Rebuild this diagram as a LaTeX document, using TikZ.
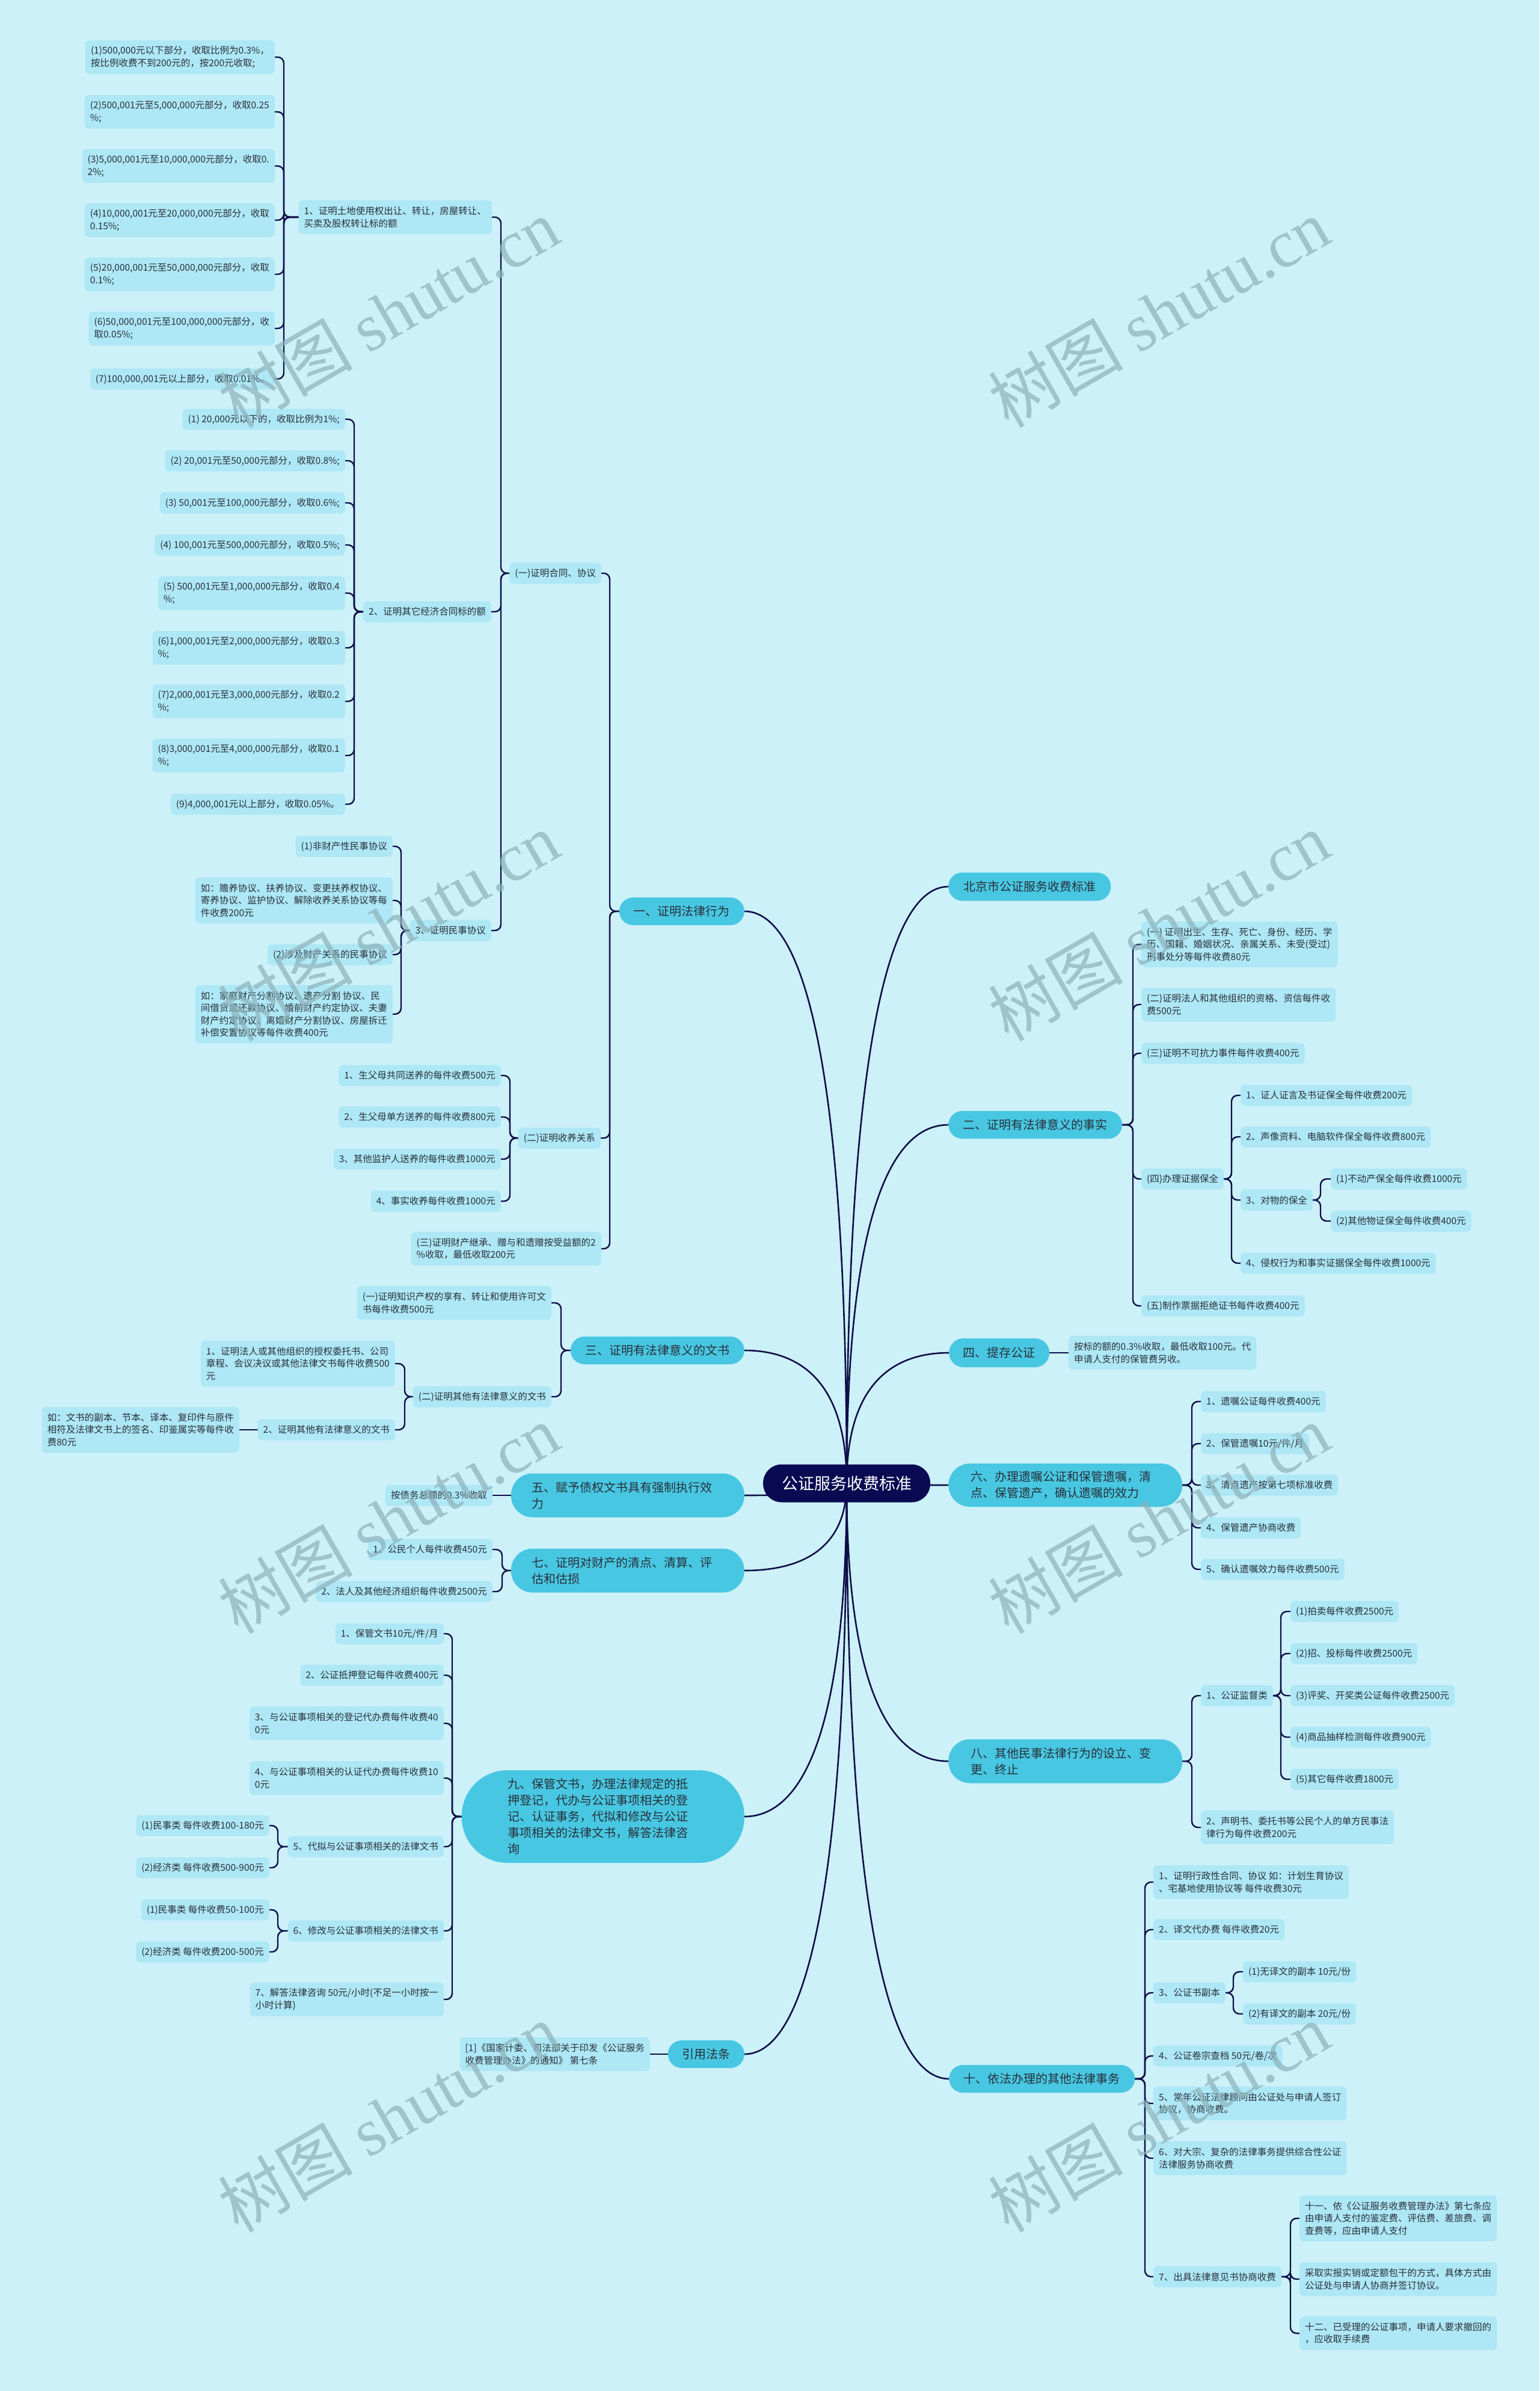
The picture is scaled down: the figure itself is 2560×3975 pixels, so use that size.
\documentclass[tikz,border=0pt]{standalone}
\usepackage{fontspec}
\setmainfont{Noto Sans CJK SC}
\newfontfamily\wmserif{Liberation Serif}
\usetikzlibrary{calc}
\definecolor{bgc}{RGB}{204,241,248}
\definecolor{leafc}{RGB}{174,231,245}
\definecolor{brc}{RGB}{72,199,226}
\definecolor{rootc}{RGB}{10,10,82}
\definecolor{linec}{RGB}{14,14,72}
\definecolor{txtc}{RGB}{40,48,58}
\definecolor{wmc}{RGB}{140,178,186}
\pgfdeclarelayer{bglayer}\pgfdeclarelayer{linelayer}\pgfdeclarelayer{wmlayer}
\pgfsetlayers{bglayer,linelayer,main,wmlayer}
\newcommand\leaffont{\fontsize{15.5pt}{20.3pt}\selectfont}
\newcommand\brfont{\fontsize{20pt}{27pt}\selectfont}
\newcommand\rootfont{\fontsize{27pt}{32pt}\selectfont}
\newcommand\wmfont{\fontsize{112pt}{112pt}\selectfont}
\newcommand\connRoot[1]{\draw[rootconn] (root.center) .. controls ($(#1 -| root.center)!0.2!(root.center)$) and ($(#1)!0.5!(#1 -| root.center)$) .. (#1);}
\newcommand\connL[3]{\draw[conn] (#1.west) -- (#1.west -| #3) |- (#2.east);}
\newcommand\connR[3]{\draw[conn] (#1.east) -- (#1.east -| #3) |- (#2.west);}
\tikzset{
 leaf/.style={fill=leafc, rounded corners=7pt, align=left, font=\leaffont, inner xsep=9pt, inner ysep=0pt, text=txtc},
 lL/.style={leaf, anchor=east},
 lR/.style={leaf, anchor=west},
 lnA/.style={minimum height=35pt},
 lnB/.style={minimum height=56pt},
 lnC/.style={minimum height=76pt},
 lnD/.style={minimum height=97pt},
 brn/.style={fill=brc, font=\brfont, inner sep=0pt, text=txtc},
 conn/.style={draw=linec, line width=2.4pt, rounded corners=10pt},
 rootconn/.style={draw=linec, line width=2.6pt},
 wmark/.style={text=wmc, opacity=0.7, rotate=30, font=\wmfont, inner sep=0pt}
}
\begin{document}
\begin{tikzpicture}[x=1pt,y=-1pt]
\useasboundingbox (0,0) rectangle (2560,3975);
\begin{pgfonlayer}{bglayer}
\fill[bgc] (0,0) rectangle (2560,3975);
\end{pgfonlayer}

% root
\node[fill=rootc, text=white, font=\rootfont, minimum width=278pt, minimum height=63pt, rounded corners=31pt, inner sep=0pt] (root) at (1408,2466) {公证服务收费标准};

% level 1 left
\node[brn, anchor=east, minimum width=208pt, minimum height=46pt, rounded corners=23pt] (b1) at (1238,1515) {一、证明法律行为};
\node[brn, anchor=east, minimum width=289pt, minimum height=46pt, rounded corners=23pt] (b3) at (1238,2245) {三、证明有法律意义的文书};
\node[brn, anchor=east, minimum width=388pt, minimum height=73pt, rounded corners=36pt, text width=318pt, align=left] (b5) at (1238,2486) {五、赋予债权文书具有强制执行效\\力};
\node[brn, anchor=east, minimum width=388pt, minimum height=73pt, rounded corners=36pt, text width=318pt, align=left] (b7) at (1238,2611) {七、证明对财产的清点、清算、评\\估和估损};
\node[brn, anchor=east, minimum width=470pt, minimum height=154pt, rounded corners=76pt, text width=316pt, align=left] (b9) at (1238,3020) {九、保管文书，办理法律规定的抵\\押登记，代办与公证事项相关的登\\记、认证事务，代拟和修改与公证\\事项相关的法律文书，解答法律咨\\询};
\node[brn, anchor=east, minimum width=127pt, minimum height=46pt, rounded corners=23pt] (bref) at (1238,3415) {引用法条};

% level 1 right
\node[brn, anchor=west, minimum width=270pt, minimum height=47pt, rounded corners=23pt] (bbj) at (1577,1474) {北京市公证服务收费标准};
\node[brn, anchor=west, minimum width=289pt, minimum height=46pt, rounded corners=23pt] (b2) at (1577,1870) {二、证明有法律意义的事实};
\node[brn, anchor=west, minimum width=167pt, minimum height=48pt, rounded corners=24pt] (b4) at (1578,2249) {四、提存公证};
\node[brn, anchor=west, minimum width=389pt, minimum height=72pt, rounded corners=36pt, text width=315pt, align=left] (b6) at (1577,2469) {六、办理遗嘱公证和保管遗嘱，清\\点、保管遗产，确认遗嘱的效力};
\node[brn, anchor=west, minimum width=389pt, minimum height=73pt, rounded corners=36pt, text width=315pt, align=left] (b8) at (1577,2928) {八、其他民事法律行为的设立、变\\更、终止};
\node[brn, anchor=west, minimum width=309pt, minimum height=46pt, rounded corners=23pt] (b10) at (1578,3456) {十、依法办理的其他法律事务};

% branch 一
\node[lL, lnA] (a1) at (1000,953) {(一)证明合同、协议};
\node[lL, lnA] (a2) at (999,1892) {(二)证明收养关系};
\node[lL, lnB] (a3) at (1000,2076) {(三)证明财产继承、赠与和遗赠按受益额的2\\\%收取，最低收取200元};
\node[lL, lnB] (a11) at (818,361) {1、证明土地使用权出让、转让，房屋转让、\\买卖及股权转让标的额};
\node[lL, lnA] (a12) at (817,1017) {2、证明其它经济合同标的额};
\node[lL, lnA] (a13) at (817,1547) {3、证明民事协议};
\node[lL, lnB] (a111) at (457,95) {(1)500,000元以下部分，收取比例为0.3\%，\\按比例收费不到200元的，按200元收取;};
\node[lL, lnB] (a112) at (457,186) {(2)500,001元至5,000,000元部分，收取0.25\\\%;};
\node[lL, lnB] (a113) at (457,276) {(3)5,000,001元至10,000,000元部分，收取0.\\2\%;};
\node[lL, lnB] (a114) at (457,366) {(4)10,000,001元至20,000,000元部分，收取\\0.15\%;};
\node[lL, lnB] (a115) at (457,456) {(5)20,000,001元至50,000,000元部分，收取\\0.1\%;};
\node[lL, lnB] (a116) at (457,546) {(6)50,000,001元至100,000,000元部分，收\\取0.05\%;};
\node[lL, lnA] (a117) at (457,630) {(7)100,000,001元以上部分，收取0.01\%。};
\node[lL, lnA] (a121) at (574,697) {(1) 20,000元以下的，收取比例为1\%;};
\node[lL, lnA] (a122) at (574,766) {(2) 20,001元至50,000元部分，收取0.8\%;};
\node[lL, lnA] (a123) at (574,836) {(3) 50,001元至100,000元部分，收取0.6\%;};
\node[lL, lnA] (a124) at (574,906) {(4) 100,001元至500,000元部分，收取0.5\%;};
\node[lL, lnB] (a125) at (574,986) {(5) 500,001元至1,000,000元部分，收取0.4\\\%;};
\node[lL, lnB] (a126) at (574,1077) {(6)1,000,001元至2,000,000元部分，收取0.3\\\%;};
\node[lL, lnB] (a127) at (574,1166) {(7)2,000,001元至3,000,000元部分，收取0.2\\\%;};
\node[lL, lnB] (a128) at (574,1256) {(8)3,000,001元至4,000,000元部分，收取0.1\\\%;};
\node[lL, lnA] (a129) at (574,1337) {(9)4,000,001元以上部分，收取0.05\%。};
\node[lL, lnA] (a131) at (653,1407) {(1)非财产性民事协议};
\node[lL, lnC] (a132) at (653,1497) {如：赡养协议、扶养协议、变更扶养权协议、\\寄养协议、监护协议、解除收养关系协议等每\\件收费200元};
\node[lL, lnA] (a133) at (653,1587) {(2)涉及财产关系的民事协议};
\node[lL, lnD] (a134) at (653,1686) {如：家庭财产分割协议、遗产分割 协议、民\\间借贷或还款协议、婚前财产约定协议、夫妻\\财产约定协议、离婚财产分割协议、房屋拆迁\\补偿安置协议等每件收费400元};
\node[lL, lnA] (a21) at (833,1788) {1、生父母共同送养的每件收费500元};
\node[lL, lnA] (a22) at (833,1857) {2、生父母单方送养的每件收费800元};
\node[lL, lnA] (a23) at (833,1927) {3、其他监护人送养的每件收费1000元};
\node[lL, lnA] (a24) at (833,1997) {4、事实收养每件收费1000元};

% branch 三
\node[lL, lnB] (c1) at (917,2166) {(一)证明知识产权的享有、转让和使用许可文\\书每件收费500元};
\node[lL, lnA] (c2) at (917,2322) {(二)证明其他有法律意义的文书};
\node[lL, lnC] (c21) at (657,2267) {1、证明法人或其他组织的授权委托书、公司\\章程、会议决议或其他法律文书每件收费500\\元};
\node[lL, lnA] (c22) at (657,2377) {2、证明其他有法律意义的文书};
\node[lL, lnC] (c221) at (398,2377) {如：文书的副本、节本、译本、复印件与原件\\相符及法律文书上的签名、印鉴属实等每件收\\费80元};

% branch 五, 七
\node[lL, lnA] (e1) at (819,2486) {按债务总额的0.3\%收取};
\node[lL, lnA] (g1) at (819,2576) {1、公民个人每件收费450元};
\node[lL, lnA] (g2) at (819,2646) {2、法人及其他经济组织每件收费2500元};

% branch 九
\node[lL, lnA] (i1) at (738,2716) {1、保管文书10元/件/月};
\node[lL, lnA] (i2) at (738,2785) {2、公证抵押登记每件收费400元};
\node[lL, lnB] (i3) at (738,2865) {3、与公证事项相关的登记代办费每件收费40\\0元};
\node[lL, lnB] (i4) at (738,2956) {4、与公证事项相关的认证代办费每件收费10\\0元};
\node[lL, lnA] (i5) at (738,3070) {5、代拟与公证事项相关的法律文书};
\node[lL, lnA] (i6) at (738,3210) {6、修改与公证事项相关的法律文书};
\node[lL, lnB] (i7) at (738,3324) {7、解答法律咨询 50元/小时(不足一小时按一\\小时计算)};
\node[lL, lnA] (i51) at (448,3035) {(1)民事类 每件收费100-180元};
\node[lL, lnA] (i52) at (448,3105) {(2)经济类 每件收费500-900元};
\node[lL, lnA] (i61) at (448,3175) {(1)民事类 每件收费50-100元};
\node[lL, lnA] (i62) at (448,3245) {(2)经济类 每件收费200-500元};

% 引用法条
\node[lL, lnB] (r1) at (1081,3415) {[1]《国家计委、司法部关于印发《公证服务\\收费管理办法》的通知》 第七条};

% branch 二
\node[lR, lnC] (d1) at (1898,1570) {(一) 证明出生、生存、死亡、身份、经历、学\\历、国籍、婚姻状况、亲属关系、未受(受过)\\刑事处分等每件收费80元};
\node[lR, lnB] (d2) at (1898,1670) {(二)证明法人和其他组织的资格、资信每件收\\费500元};
\node[lR, lnA] (d3) at (1898,1751) {(三)证明不可抗力事件每件收费400元};
\node[lR, lnA] (d4) at (1898,1960) {(四)办理证据保全};
\node[lR, lnA] (d5) at (1898,2171) {(五)制作票据拒绝证书每件收费400元};
\node[lR, lnA] (d41) at (2063,1821) {1、证人证言及书证保全每件收费200元};
\node[lR, lnA] (d42) at (2063,1890) {2、声像资料、电脑软件保全每件收费800元};
\node[lR, lnA] (d43) at (2063,1995) {3、对物的保全};
\node[lR, lnA] (d44) at (2063,2100) {4、侵权行为和事实证据保全每件收费1000元};
\node[lR, lnA] (d431) at (2213,1960) {(1)不动产保全每件收费1000元};
\node[lR, lnA] (d432) at (2213,2030) {(2)其他物证保全每件收费400元};

% branch 四
\node[lR, lnB] (f1) at (1777,2249) {按标的额的0.3\%收取，最低收取100元。代\\申请人支付的保管费另收。};

% branch 六
\node[lR, lnA] (h1) at (1997,2330) {1、遗嘱公证每件收费400元};
\node[lR, lnA] (h2) at (1997,2400) {2、保管遗嘱10元/件/月};
\node[lR, lnA] (h3) at (1997,2469) {3、清点遗产按第七项标准收费};
\node[lR, lnA] (h4) at (1997,2540) {4、保管遗产协商收费};
\node[lR, lnA] (h5) at (1997,2609) {5、确认遗嘱效力每件收费500元};

% branch 八
\node[lR, lnA] (k1) at (1997,2819) {1、公证监督类};
\node[lR, lnB] (k2) at (1997,3038) {2、声明书、委托书等公民个人的单方民事法\\律行为每件收费200元};
\node[lR, lnA] (k11) at (2146,2679) {(1)拍卖每件收费2500元};
\node[lR, lnA] (k12) at (2146,2749) {(2)招、投标每件收费2500元};
\node[lR, lnA] (k13) at (2146,2819) {(3)评奖、开奖类公证每件收费2500元};
\node[lR, lnA] (k14) at (2146,2888) {(4)商品抽样检测每件收费900元};
\node[lR, lnA] (k15) at (2146,2958) {(5)其它每件收费1800元};

% branch 十
\node[lR, lnB] (m1) at (1918,3129) {1、证明行政性合同、协议 如：计划生育协议\\、宅基地使用协议等 每件收费30元};
\node[lR, lnA] (m2) at (1918,3208) {2、译文代办费 每件收费20元};
\node[lR, lnA] (m3) at (1918,3313) {3、公证书副本};
\node[lR, lnA] (m4) at (1918,3418) {4、公证卷宗查档 50元/卷/次};
\node[lR, lnB] (m5) at (1918,3497) {5、常年公证法律顾问由公证处与申请人签订\\协议，协商收费。};
\node[lR, lnB] (m6) at (1918,3588) {6、对大宗、复杂的法律事务提供综合性公证\\法律服务协商收费};
\node[lR, lnA] (m7) at (1918,3785) {7、出具法律意见书协商收费};
\node[lR, lnA] (m31) at (2067,3278) {(1)无译文的副本 10元/份};
\node[lR, lnA] (m32) at (2067,3348) {(2)有译文的副本 20元/份};
\node[lR, lnC] (m71) at (2161,3688) {十一、依《公证服务收费管理办法》第七条应\\由申请人支付的鉴定费、评估费、差旅费、调\\查费等，应由申请人支付};
\node[lR, lnB] (m72) at (2161,3789) {采取实报实销或定额包干的方式，具体方式由\\公证处与申请人协商并签订协议。};
\node[lR, lnB] (m73) at (2161,3879) {十二、已受理的公证事项，申请人要求撤回的\\，应收取手续费};

% connectors
\begin{pgfonlayer}{linelayer}
\connRoot{b1.east}\connRoot{b3.east}\connRoot{b5.east}\connRoot{b7.east}\connRoot{b9.east}\connRoot{bref.east}
\connRoot{bbj.west}\connRoot{b2.west}\connRoot{b4.west}\connRoot{b6.west}\connRoot{b8.west}\connRoot{b10.west}
\coordinate (tb1) at (1014,0);
\coordinate (ta1) at (833,0);
\coordinate (ta11) at (472,0);
\coordinate (ta12) at (589,0);
\coordinate (ta13) at (667,0);
\coordinate (ta2) at (848,0);
\coordinate (tb3) at (933,0);
\coordinate (tc2) at (673,0);
\coordinate (tb7) at (835,0);
\coordinate (tb9) at (752,0);
\coordinate (ti5) at (462,0);
\coordinate (ti6) at (462,0);
\coordinate (tb2) at (1884,0);
\coordinate (td4) at (2048,0);
\coordinate (td43) at (2196,0);
\coordinate (tb6) at (1982,0);
\coordinate (tk1) at (2130,0);
\coordinate (tb10) at (1904,0);
\coordinate (tm3) at (2051,0);
\coordinate (tm7) at (2146,0);
\connL{b1}{a1}{tb1}\connL{b1}{a2}{tb1}\connL{b1}{a3}{tb1}
\connL{a1}{a11}{ta1}\connL{a1}{a12}{ta1}\connL{a1}{a13}{ta1}
\foreach \n in {a111,a112,a113,a114,a115,a116,a117}{\connL{a11}{\n}{ta11}}
\foreach \n in {a121,a122,a123,a124,a125,a126,a127,a128,a129}{\connL{a12}{\n}{ta12}}
\foreach \n in {a131,a132,a133,a134}{\connL{a13}{\n}{ta13}}
\foreach \n in {a21,a22,a23,a24}{\connL{a2}{\n}{ta2}}
\connL{b3}{c1}{tb3}\connL{b3}{c2}{tb3}
\connL{c2}{c21}{tc2}\connL{c2}{c22}{tc2}
\draw[conn] (c22.west) -- (c221.east);
\draw[conn] (b5.west) -- (e1.east);
\connL{b7}{g1}{tb7}\connL{b7}{g2}{tb7}
\foreach \n in {i1,i2,i3,i4,i5,i6,i7}{\connL{b9}{\n}{tb9}}
\connL{i5}{i51}{ti5}\connL{i5}{i52}{ti5}
\connL{i6}{i61}{ti6}\connL{i6}{i62}{ti6}
\draw[conn] (bref.west) -- (r1.east);
\foreach \n in {d1,d2,d3,d4,d5}{\connR{b2}{\n}{tb2}}
\foreach \n in {d41,d42,d43,d44}{\connR{d4}{\n}{td4}}
\connR{d43}{d431}{td43}\connR{d43}{d432}{td43}
\draw[conn] (b4.east) -- (f1.west);
\foreach \n in {h1,h2,h3,h4,h5}{\connR{b6}{\n}{tb6}}
\connR{b8}{k1}{tb6}\connR{b8}{k2}{tb6}
\foreach \n in {k11,k12,k13,k14,k15}{\connR{k1}{\n}{tk1}}
\foreach \n in {m1,m2,m3,m4,m5,m6,m7}{\connR{b10}{\n}{tb10}}
\connR{m3}{m31}{tm3}\connR{m3}{m32}{tm3}
\foreach \n in {m71,m72,m73}{\connR{m7}{\n}{tm7}}
\end{pgfonlayer}

% watermarks
\begin{pgfonlayer}{wmlayer}
\node[wmark] (wm1) at (646,520) {树图 {\wmserif shutu.cn}};
\node[wmark] (wm2) at (1927,520) {树图 {\wmserif shutu.cn}};
\node[wmark] (wm3) at (646,1540) {树图 {\wmserif shutu.cn}};
\node[wmark] (wm4) at (1927,1540) {树图 {\wmserif shutu.cn}};
\node[wmark] (wm5) at (646,2525) {树图 {\wmserif shutu.cn}};
\node[wmark] (wm6) at (1927,2525) {树图 {\wmserif shutu.cn}};
\node[wmark] (wm7) at (646,3520) {树图 {\wmserif shutu.cn}};
\node[wmark] (wm8) at (1927,3520) {树图 {\wmserif shutu.cn}};
\end{pgfonlayer}
\end{tikzpicture}
\end{document}
